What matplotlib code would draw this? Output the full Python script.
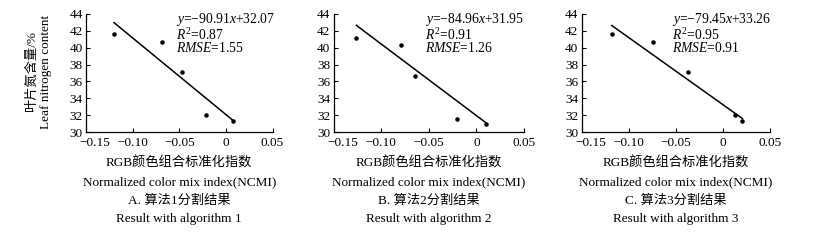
import matplotlib
matplotlib.use("Agg")
import matplotlib.pyplot as plt
import matplotlib.transforms as mtransforms
import numpy as np

# Data
xA = [-0.120, -0.069, -0.047, -0.021, 0.008]
yA = [41.6, 40.7, 37.1, 32.0, 31.3]
xB = [-0.126, -0.079, -0.064, -0.020, 0.010]
yB = [41.2, 40.3, 36.6, 31.6, 31.0]
xC = [-0.118, -0.074, -0.037, 0.013, 0.021]
yC = [41.6, 40.7, 37.1, 32.0, 31.3]
slopes = [-90.91, -84.96, -79.45]
intercepts = [32.07, 31.95, 33.26]
r2 = ["0.87", "0.91", "0.95"]
rmse = ["1.55", "1.26", "0.91"]
xticks = [-0.15, -0.10, -0.05, 0, 0.05]
xticklabels = ["\u22120.15", "\u22120.10", "\u22120.05", "0", "0.05"]
yticks = [30, 32, 34, 36, 38, 40, 42, 44]
titles_cn = ["A. 算法1分割结果", "B. 算法2分割结果", "C. 算法3分割结果"]
titles_en = ["Result with algorithm 1", "Result with algorithm 2", "Result with algorithm 3"]
xlabel_cn = "RGB颜色组合标准化指数"
xlabel_en = "Normalized color mix index(NCMI)"
ylabel_cn = "叶片氮含量/%"
ylabel_en = "Leaf nitrogen content"

FAM = ["Liberation Serif", "Noto Sans CJK SC"]
plt.rcParams["font.family"] = FAM
plt.rcParams["mathtext.fontset"] = "custom"
plt.rcParams["mathtext.rm"] = "Liberation Serif"
plt.rcParams["mathtext.it"] = "Liberation Serif:italic"

W, H = 821, 240
fig = plt.figure(figsize=(W / 100, H / 100), dpi=100)

# axes pixel boxes: left, right
boxes = [(86, 272.5), (333.5, 524), (581.7, 769.7)]
top, bottom = 14, 132
datasets = [(xA, yA), (xB, yB), (xC, yC)]
fs = 9.5
afs = 9.8

for i, ((l, r), (xs, ys)) in enumerate(zip(boxes, datasets)):
    ax = fig.add_axes([l / W, 1 - bottom / H, (r - l) / W, (bottom - top) / H])
    ax.set_xlim(-0.15, 0.05)
    ax.set_ylim(30, 44)
    for s in ["top", "right"]:
        ax.spines[s].set_visible(False)
    for s in ["left", "bottom"]:
        ax.spines[s].set_linewidth(0.9)
    ax.set_xticks(xticks)
    ax.set_xticklabels(xticklabels)
    ax.set_yticks(yticks)
    ax.tick_params(direction="in", length=3, width=0.8, labelsize=fs)
    ax.tick_params(axis="x", pad=3.5)
    ax.tick_params(axis="y", pad=2.5)
    lab0 = ax.get_xticklabels()[0]
    lab0.set_transform(lab0.get_transform() + mtransforms.ScaledTranslation(9 / 100, 0, fig.dpi_scale_trans))
    ax.scatter(xs, ys, s=5, color="black", zorder=3)
    xl = np.array([min(xs), max(xs)])
    ax.plot(xl, slopes[i] * xl + intercepts[i], color="black", lw=1.1)
    ax.text(-0.0535, 42.9, "$y$=\u2212%.2f$x$+%.2f" % (-slopes[i], intercepts[i]),
            fontsize=afs, va="baseline", ha="left")
    ax.text(-0.0535, 40.95, "$R^{2}$=" + r2[i], fontsize=afs, va="baseline", ha="left")
    ax.text(-0.0535, 39.45, "$RMSE$=" + rmse[i], fontsize=afs, va="baseline", ha="left")
    cx = (l + r) / 2 / W
    fig.text(cx, 1 - 163 / H, xlabel_cn, ha="center", va="center", fontsize=fs, family=FAM)
    fig.text(cx, 1 - 182 / H, xlabel_en, ha="center", va="center", fontsize=fs, family=FAM)
    fig.text(cx, 1 - 201 / H, titles_cn[i], ha="center", va="center", fontsize=fs, family=FAM)
    fig.text(cx, 1 - 219 / H, titles_en[i], ha="center", va="center", fontsize=fs, family=FAM)

fig.text(31.5 / W, 1 - 72 / H, ylabel_cn, rotation=90, ha="center", va="center", fontsize=fs, family=FAM)
fig.text(46 / W, 1 - 72 / H, ylabel_en, rotation=90, ha="center", va="center", fontsize=fs, family=FAM)

fig.savefig("out.png", dpi=100)
